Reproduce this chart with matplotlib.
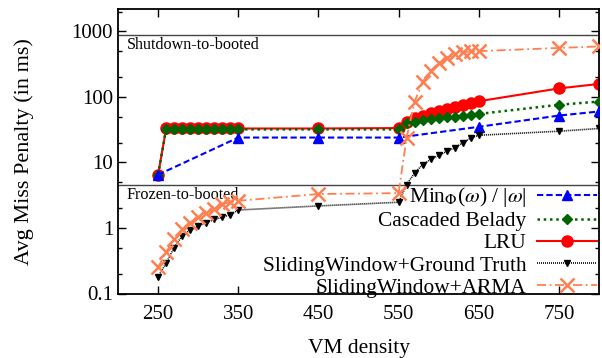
import matplotlib
matplotlib.use("Agg")
import matplotlib.pyplot as plt
from matplotlib.ticker import LogLocator, FixedLocator, NullFormatter, FixedFormatter

plt.rcParams['font.family'] = ['Liberation Serif', 'DejaVu Serif']
plt.rcParams['mathtext.fontset'] = 'stix'

dense_lo = [250, 260, 270, 280, 290, 300, 310, 320, 330, 340, 350]
dense_hi = [560, 570, 580, 590, 600, 610, 620, 630, 640, 650]
x_full = dense_lo + [450, 550] + dense_hi + [750, 800]

x_min = [250, 350, 450, 550, 650, 750, 800]
y_min = [6.5, 24, 24, 24, 35, 52, 60]

y_casc = [6.5] + [32] * 10 + [32, 32] + [40, 42, 44, 46, 47, 49, 50, 52, 53, 55] + [76, 85]
y_lru = [6.5] + [33] * 10 + [33, 33.5] + [41, 47, 52, 57, 62, 66, 70, 75, 80, 86] + [135, 158]
y_gt = [0.18, 0.29, 0.50, 0.76, 0.93, 1.07, 1.2, 1.35, 1.45, 1.6, 1.88] + [2.17, 2.47] + \
       [4.6, 6.9, 9.3, 11.1, 12.8, 14.8, 16.7, 19.9, 23.6, 26] + [30, 33]
y_arma = [0.25, 0.43, 0.67, 0.95, 1.2, 1.49, 1.68, 1.93, 2.3, 2.5, 2.6] + [3.3, 3.4] + \
         [24, 85, 170, 250, 330, 400, 445, 480, 495, 500] + [560, 590]

labels = [r'Min$_\Phi$($\omega$) / |$\omega$|', 'Cascaded Belady', 'LRU',
          'SlidingWindow+Ground Truth', 'SlidingWindow+ARMA']
xticks = [250, 350, 450, 550, 650, 750]
yticks = [0.1, 1, 10, 100, 1000]
yticklabels = ['0.1', '1', '10', '100', '1000']
shutdown_level = 880
frozen_level = 4.6

fig = plt.figure(figsize=(6.02, 3.58), dpi=100)
ax = fig.add_axes([118/602, 1 - 293.5/358, (599-118)/602, (293.5-9)/358])

h_min, = ax.plot(x_min, y_min, color='#0000ff', ls=(0, (3, 1.5)), lw=1.5, marker='^', ms=7, zorder=4)
h_casc, = ax.plot(x_full, y_casc, color='#006400', ls=(0, (1, 1.5)), lw=1.8, marker='D', ms=5, zorder=3)
h_lru, = ax.plot(x_full, y_lru, color='#ff0000', ls='-', lw=1.5, marker='o', ms=8, zorder=2)
h_gt, = ax.plot(x_full, y_gt, color='black', ls=(0, (0.6, 0.6)), lw=1.2, marker='v', ms=5, zorder=5)
h_arma, = ax.plot(x_full, y_arma, color='#ff7f50', ls=(0, (5, 2, 1, 2)), lw=1.3, marker='x', ms=10, mew=1.8, zorder=6)

ax.axhline(shutdown_level, color='#444444', lw=1.0, zorder=1)
ax.axhline(frozen_level, color='#444444', lw=1.0, zorder=1)
ax.text(211, shutdown_level * 0.92, 'Shutdown-to-booted', fontsize=11.6, va='top', ha='left')
ax.text(211, frozen_level * 0.93, 'Frozen-to-booted', fontsize=11.6, va='top', ha='left')

ax.set_yscale('log')
ax.set_xlim(200, 800)
ax.set_ylim(0.1, 2200)
ax.xaxis.set_major_locator(FixedLocator(xticks))
ax.set_xticklabels([str(v) for v in xticks])
ax.yaxis.set_major_locator(FixedLocator(yticks))
ax.yaxis.set_major_formatter(FixedFormatter(yticklabels))
ax.yaxis.set_minor_locator(LogLocator(base=10, subs=(2, 5)))
ax.yaxis.set_minor_formatter(NullFormatter())
ax.tick_params(which='both', direction='in', top=True, right=True, labelsize=15)
ax.tick_params(which='major', length=6, width=1)
ax.tick_params(which='minor', length=3, width=1)
ax.tick_params(axis='x', pad=8)
for s in ax.spines.values():
    s.set_linewidth(1.3)

ax.set_xlabel('VM density', fontsize=15.5, labelpad=11)
ax.set_ylabel('Avg Miss Penalty (in ms)', fontsize=16, labelpad=27)

leg = ax.legend([h_min, h_casc, h_lru, h_gt, h_arma], labels, loc='lower right',
                frameon=False, markerfirst=False, fontsize=15.4, handlelength=2.8,
                labelspacing=0.1, borderaxespad=0.0, borderpad=0.1, handletextpad=0.5,
                bbox_to_anchor=(1.0, -0.022))
for t in leg.get_texts():
    t.set_ha('right')
leg._legend_box.align = 'right'

fig.savefig('out.png', dpi=100)
